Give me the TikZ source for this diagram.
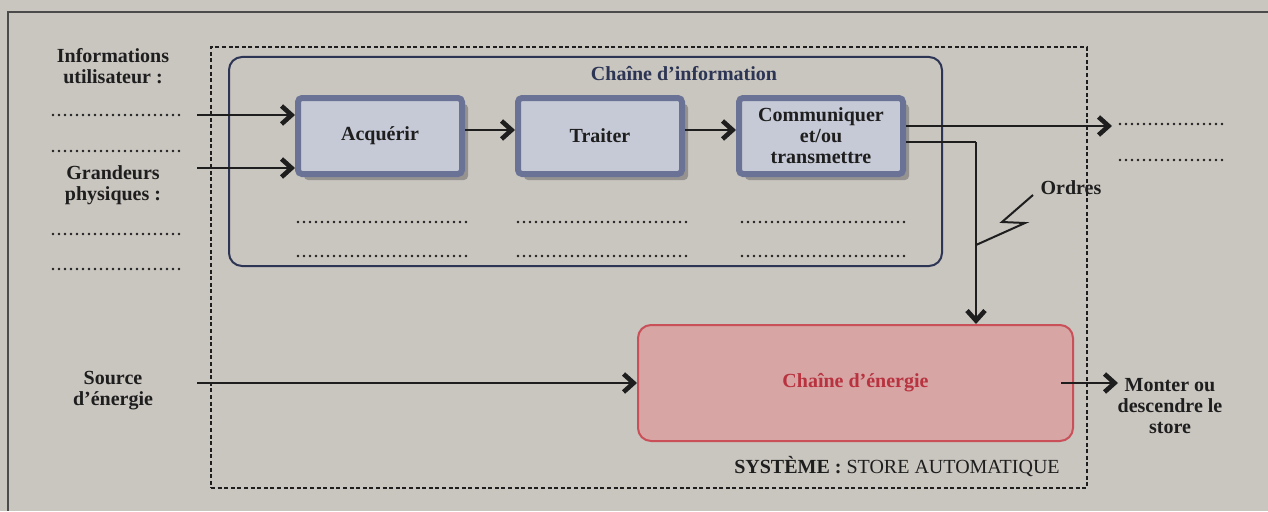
\documentclass[tikz,border=0pt]{standalone}
\usepackage{fontspec}
\setmainfont{Liberation Serif}
\usetikzlibrary{arrows.meta,shadows,calc}
\definecolor{bgc}{HTML}{C9C5BF}
\definecolor{boxfill}{HTML}{C6CAD7}
\definecolor{boxedge}{HTML}{6A7396}
\definecolor{shadowc}{HTML}{959290}
\definecolor{navy}{HTML}{2C3554}
\definecolor{enfill}{HTML}{D6A5A4}
\definecolor{enedge}{HTML}{C94F58}
\definecolor{entext}{HTML}{B8333F}
\definecolor{ink}{HTML}{1E1E1E}
\newcommand{\fsz}{\fontsize{20}{21}\selectfont}
\tikzset{
  every node/.style={font=\fsz, text=ink},
  fnbox/.style={draw=boxedge, line width=6pt, fill=boxfill, rounded corners=4pt,
    minimum width=164pt, minimum height=76pt, align=center, font=\fsz\bfseries,
    drop shadow={shadow xshift=6pt, shadow yshift=-6pt, fill=shadowc, opacity=1}},
  lbl/.style={align=center, font=\fsz\bfseries, inner sep=0pt},
  arr/.style={draw=ink, line width=2.4pt, -{Straight Barb[length=10pt,width=18pt,line width=4.6pt]}},
  wire/.style={draw=ink, line width=2.2pt},
  dotline/.style={draw=ink, line width=2.9pt, line cap=round, dash pattern=on 0pt off 6pt},
}
\begin{document}
\begin{tikzpicture}[x=1pt,y=-1pt]
\useasboundingbox (0,0) rectangle (1268,511);
\fill[bgc] (0,0) rectangle (1268,511);
\draw[ink!80, line width=1.4pt] (1268,12) -- (8,12) -- (8,511);

% system boundary
\node[draw=ink, line width=1.6pt, dash pattern=on 4pt off 2.6pt, minimum width=876pt, minimum height=441pt, inner sep=0pt] (sys) at (649,267.5) {};
\node[inner sep=0pt, font=\fsz] (systxt) at (897,467) {\textbf{SYSTÈME :} STORE AUTOMATIQUE};

% information chain
\node[draw=navy, line width=2pt, rounded corners=13pt, minimum width=713pt, minimum height=209pt, inner sep=0pt] (chinfo) at (585.5,161.5) {};
\node[lbl, text=navy] (chinfotitle) at (684,74) {Chaîne d’information};

\node[fnbox] (acq) at (380,136) {Acquérir};
\node[fnbox] (trt) at (600,136) {Traiter};
\node[fnbox] (com) at (821,136) {Communiquer\\et/ou\\transmettre};

% energy chain
\node[draw=enedge, line width=2pt, fill=enfill, rounded corners=13pt, minimum width=435pt, minimum height=116pt, inner sep=0pt, font=\fsz\bfseries, text=entext] (ener) at (855.5,383) {Chaîne d’énergie};

% left labels
\node[lbl] (infou) at (113,66) {Informations\\utilisateur :};
\node[lbl] (grand) at (113,185) {Grandeurs\\physiques :};
\node[lbl] (source) at (113,391) {Source\\d’énergie};
\node[lbl] (ordres) at (1071,188) {Ordres};
\node[lbl] (monter) at (1170,406) {Monter ou\\descendre le\\store};

% coordinates
\coordinate (in1) at (197,115);
\coordinate (in2) at (197,168);
\coordinate (in3) at (197,383);
\coordinate (out1) at (1112,126);
\coordinate (ordv) at (976,142);
\coordinate (out2) at (1118,383);

% connectors
\draw[arr] (in1) -- (in1 -| acq.west);
\draw[arr] (in2) -- (in2 -| acq.west);
\draw[arr] (acq.east |- 0,130) -- (trt.west |- 0,130);
\draw[arr] (trt.east |- 0,130) -- (com.west |- 0,130);
\draw[arr] (com.east |- out1) -- (out1);
\draw[wire] (com.east |- ordv) -- (ordv);
\draw[arr] (ordv) -- (ordv |- ener.north);
\draw[wire, line width=2pt, line join=miter] (976,245) -- (1025,223) -- (1002,222) -- (1033,195);
\draw[arr] (in3) -- (ener.west);
\draw[arr] ($(ener.east)+(-13,0)$) -- (out2);

% dotted answer lines
\foreach \y in {115,151,234,269} \draw[dotline] (53,\y) -- (183,\y);
\foreach \y in {124,160} \draw[dotline] (1120,\y) -- (1222,\y);
\foreach \y in {222,256} {
  \draw[dotline] (298,\y) -- (467,\y);
  \draw[dotline] (518,\y) -- (686,\y);
  \draw[dotline] (742,\y) -- (908,\y);
}
\end{tikzpicture}
\end{document}
